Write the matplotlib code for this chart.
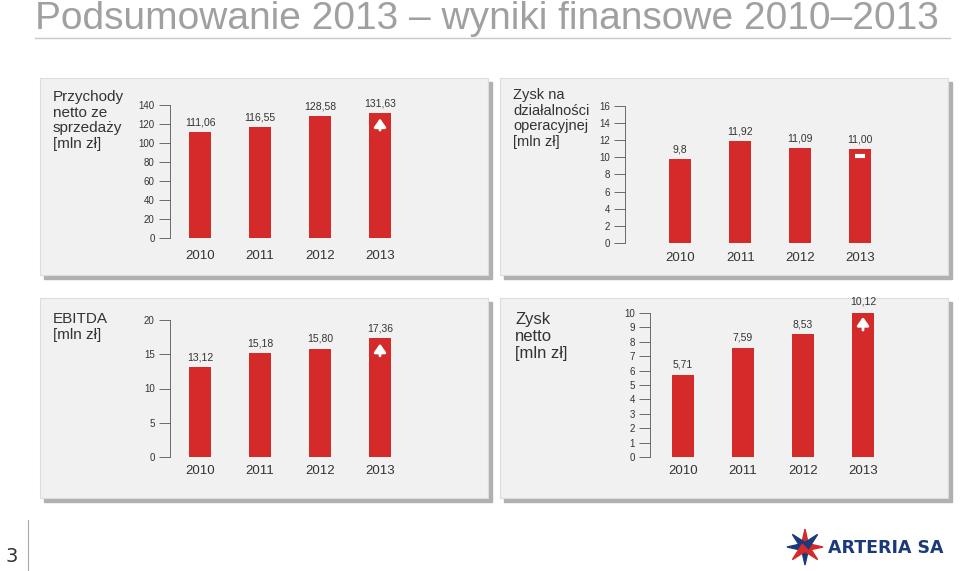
import matplotlib
matplotlib.use("Agg")
import matplotlib.pyplot as plt
from matplotlib.patches import Rectangle, Polygon

years = ["2010", "2011", "2012", "2013"]
rev = [111.06, 116.55, 128.58, 131.63]
rev_lbl = ["111,06", "116,55", "128,58", "131,63"]
op = [9.8, 11.92, 11.09, 11.00]
op_lbl = ["9,8", "11,92", "11,09", "11,00"]
ebitda = [13.12, 15.18, 15.80, 17.36]
ebitda_lbl = ["13,12", "15,18", "15,80", "17,36"]
net = [5.71, 7.59, 8.53, 10.12]
net_lbl = ["5,71", "7,59", "8,53", "10,12"]

W, H = 960, 571
fig = plt.figure(figsize=(W/100, H/100), dpi=100)
fig.patch.set_facecolor("white")
RED = "#d42a2a"
FONT = "Liberation Sans"

def fx(px): return px / W
def fy(py): return 1 - py / H

fig.text(fx(35), fy(19), "Podsumowanie 2013 – wyniki finansowe 2010–2013", fontsize=28,
         color="#a0a0a0", va="center", ha="left", family=FONT)
fig.add_artist(plt.Line2D([fx(35), fx(950)], [fy(38), fy(38)], color="#c8c8c8", lw=1))

def panel(x0, y0, x1, y1):
    fig.add_artist(Rectangle((fx(x0+4), fy(y1+4)), fx(x1-x0), (y1-y0)/H, color="#b0b0b0", zorder=0))
    fig.add_artist(Rectangle((fx(x0), fy(y1)), fx(x1-x0), (y1-y0)/H, facecolor="#f1f1f1",
                             edgecolor="#dddddd", lw=0.8, zorder=0.5))

panel(40, 78, 488, 275)
panel(500, 78, 948, 275)
panel(40, 298, 488, 498)
panel(500, 298, 948, 498)

def chart(ax_left, ax_right, xlo, y0px, ytop_px, ymax, ticks, vals, lbls, yearsy, title, tx, ty, mark, tfs=10.5):
    ax = fig.add_axes([fx(ax_left), fy(y0px), fx(ax_right-ax_left), (y0px-ytop_px)/H])
    ax.set_zorder(3)
    ax.set_facecolor("none")
    ax.bar(range(4), vals, width=0.37, color=RED, zorder=2)
    ax.set_xlim(xlo, xlo + (ax_right-ax_left)/60)
    ax.set_ylim(0, ymax)
    ax.set_yticks(ticks)
    ax.set_yticklabels([str(t) for t in ticks], fontsize=7, color="#333333", family=FONT)
    ax.tick_params(axis="y", length=8, width=0.6, color="#555555", pad=3)
    ax.set_xticks([])
    for s in ["top", "right", "bottom"]:
        ax.spines[s].set_visible(False)
    ax.spines["left"].set_color("#555555")
    ax.spines["left"].set_linewidth(0.6)
    for i, (v, l) in enumerate(zip(vals, lbls)):
        ax.text(i, v + ymax*0.035, l, ha="center", va="bottom", fontsize=7.5, color="#333333",
                clip_on=False, family=FONT)
        fig.text(fx(ax_left + (i - xlo)*60), fy(yearsy), years[i], ha="center", va="center",
                 fontsize=9.5, color="#333333", zorder=4, family=FONT)
    fig.text(fx(tx), fy(ty), title, ha="left", va="top", fontsize=tfs, color="#333333",
             linespacing=1.15, zorder=4, family=FONT)
    v = vals[3]
    if mark == "up":
        ax.annotate("", xy=(3, v - ymax*0.02), xytext=(3, v - ymax*0.15),
                    arrowprops=dict(arrowstyle="-|>,head_width=0.35,head_length=0.5", color="white", lw=2), zorder=3)
    else:
        ax.plot([2.92, 3.08], [v - ymax*0.05]*2, color="white", lw=3, zorder=3, solid_capstyle="butt")
    return ax

chart(170, 410, -0.5, 238, 105, 140, [0, 20, 40, 60, 80, 100, 120, 140], rev, rev_lbl, 256,
      "Przychody\nnetto ze\nsprzedaży\n[mln zł]", 53, 90, "up", tfs=11)
chart(625, 890, -0.92, 243, 106, 16, list(range(0, 17, 2)), op, op_lbl, 258,
      "Zysk na\ndziałalności\noperacyjnej\n[mln zł]", 513, 88, "minus", tfs=10.5)
chart(170, 410, -0.5, 457, 320, 20, [0, 5, 10, 15, 20], ebitda, ebitda_lbl, 471,
      "EBITDA\n[mln zł]", 53, 312, "up", tfs=11)
chart(650, 890, -0.55, 457, 313, 10, list(range(11)), net, net_lbl, 471,
      "Zysk\nnetto\n[mln zł]", 515, 312, "up", tfs=12)

fig.text(fx(12), fy(556), "3", fontsize=14, color="#333333", ha="center", va="center")
fig.add_artist(plt.Line2D([fx(28), fx(28)], [fy(520), fy(571)], color="#aaaaaa", lw=0.8))
cx, cy = 805, 547
for dx, dy, c in [(0, -1, "#d42a2a"), (0, 1, "#1a3a7a"), (-1, 0, "#1a3a7a"), (1, 0, "#d42a2a"),
                  (-0.7, -0.7, "#1a3a7a"), (0.7, 0.7, "#d42a2a"), (0.7, -0.7, "#1a3a7a"), (-0.7, 0.7, "#d42a2a")]:
    px, py = cx + dx*18, cy + dy*18
    ox, oy = -dy*4, dx*4
    pts = [(fx(cx+ox), fy(cy+oy)), (fx(px), fy(py)), (fx(cx-ox), fy(cy-oy))]
    fig.add_artist(Polygon(pts, closed=True, color=c))
fig.text(fx(828), fy(548), "ARTERIA SA", fontsize=12.5, fontweight="bold", color="#1a3a7a",
         ha="left", va="center", family="DejaVu Sans")

fig.savefig("out.png", dpi=100)
